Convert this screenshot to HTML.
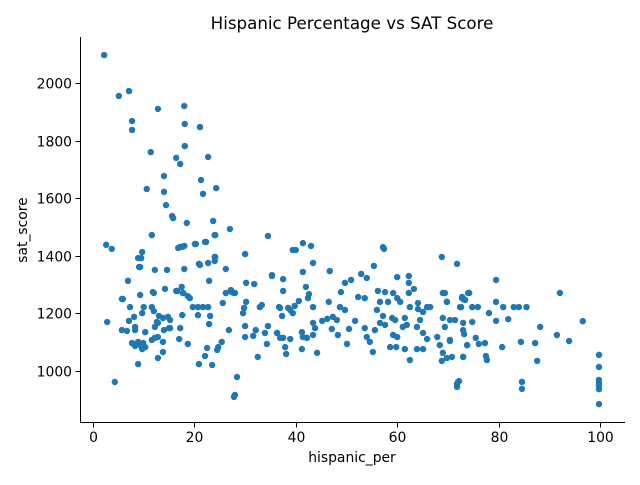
<!DOCTYPE html>
<html><head><meta charset="utf-8"><style>
body{margin:0;background:#fff;}
svg text{font-family:"DejaVu Sans","Liberation Sans",sans-serif;}
</style></head><body>
<svg id="chart" width="640" height="480" xmlns="http://www.w3.org/2000/svg">
<rect width="640" height="480" fill="#fff"/>
<text x="352" y="29" font-size="16.7" text-anchor="middle">Hispanic Percentage vs SAT Score</text>
<g id="points"></g>
<g id="axes"></g>
<text x="352" y="462" font-size="13.9" text-anchor="middle">hispanic_per</text>
<text transform="translate(27,230) rotate(-90)" font-size="13.9" text-anchor="middle">sat_score</text>
</svg>
<script>
const xTicks=[0,20,40,60,80,100];
const yTicks=[1000,1200,1400,1600,1800,2000];
const hispanicPer=[2.2,5.1,7.1,7.7,7.7,12.8,18,18.1,21.1,11.4,18.1,16.4,22.7,14,17.2,10.6,14,21.3,24.3,21.7,14.4,15.6,15.8,18.5,23.7,27,24,11.6,34.5,30,24,24,17.2,18,20.1,22.1,2.6,3.7,9.5,9.1,12.2,14.6,18,21.1,22.7,26.2,6.9,22.9,17.5,11.8,16.4,17.7,18.7,27.2,27.8,5.9,9.3,26.2,30.2,31.8,37.5,35.3,2.8,4.3,28,28.4,27.8,
99.8,99.8,99.8,99.8,99.8,99.8,99.8,84.6,84.6,71.8,72.2,96.6,92.1,91.5,93.9,88.2,87.2,87.6,84.4,83,84,85.5,81.9,80.9,79.5,79.5,78.1,79.5,80.7,77.3,76.1,77.5,77.7,75.5,74.8,74.8,75.9,74.2,72.8,73.4,72.6,69.4,69.8,71.8,68.8,73.8,73,70.4,73.2,
41.4,43,39.4,40,57.2,57.4,43.4,55.4,46.7,41.4,35.3,52.9,54,60,62.3,62.3,63.3,50.9,49.7,48.9,37.5,42,42.6,42.4,40.6,39.8,38.5,36.9,37.3,38.9,39.4,43.4,46.5,52.3,53.6,56.2,57.6,59.2,60,56.6,58.2,62.3,60.6,62.5,64.1,65.9,66.5,69,69.8,72.8,73,74,72.4,
36.3,37.5,38.9,37.9,38.1,41.2,41.4,42.2,43.4,41.2,44.2,43.4,43.8,45.2,46.2,47.3,48.1,47.1,48.3,48.7,49.7,50.5,50.1,51.7,53.6,54,54.6,55.2,55.6,56.6,57.6,59.2,60,58.6,59.8,56,57.2,59,59.6,61.1,61.9,61.5,61.5,62.5,63.9,65.1,65.9,65.1,63.9,64.5,65.1,64.1,67.9,68.4,69,68.8,69.8,70.4,70.8,73,73.8,73,73,69,70.4,71.4,69.4,72,71.8,
9.7,8.9,9.3,16.8,17.6,20.3,22.3,24.1,24.1,20.9,14.2,12,5.7,16.6,17.8,19.1,27.4,28,25.6,30.2,29.8,29.6,32.9,33.3,36.7,7.3,8.1,7.1,10,9.7,11.6,12,13,13.8,14.8,15.2,12.6,15.2,19.7,20.7,21.7,22.7,20.7,23.1,
5.7,6.7,8.3,8.3,10.3,12.2,12.8,7.7,8.3,8.9,9.3,9.9,10.3,9.7,11.6,12.2,12.8,13.8,13.8,8.9,12.8,14,15,17.2,17.6,17,18.7,20.9,22.1,22.5,23.5,22.9,24.5,24.7,25.4,26.8,32.5,30,30,31.6,32.1,33.9,34.3,34.5,36.3,36.9];
const satScore=[2097,1955,1972,1868,1837,1910,1920,1858,1847,1760,1781,1740,1743,1677,1719,1632,1622,1663,1635,1615,1576,1538,1531,1514,1521,1493,1472,1472,1469,1406,1396,1382,1431,1434,1441,1448,1438,1424,1392,1361,1351,1351,1354,1368,1375,1354,1313,1313,1292,1274,1278,1271,1260,1281,1271,1250,1264,1271,1306,1302,1319,1333,1170,962,917,979,910,
1056,1014,969,958,950,937,885,962,938,955,965,1173,1271,1125,1104,1153,1097,1035,1101,1222,1222,1222,1180,1222,1240,1174,1201,1316,1083,1097,1094,1052,1038,1115,1170,1222,1222,1271,1253,1247,1222,1271,1240,1372,1396,1090,1049,1104,1128,
1444,1434,1420,1420,1430,1424,1375,1365,1347,1344,1330,1337,1323,1326,1330,1306,1285,1316,1306,1274,1278,1292,1267,1253,1243,1226,1219,1219,1191,1212,1201,1222,1240,1257,1253,1278,1274,1271,1253,1240,1240,1271,1240,1222,1236,1222,1222,1271,1240,1257,1250,1271,1222,
1132,1115,1111,1083,1059,1135,1118,1115,1125,1076,1063,1167,1149,1174,1181,1188,1177,1146,1125,1222,1212,1146,1094,1174,1149,1118,1101,1066,1142,1167,1160,1125,1118,1083,1083,1212,1191,1184,1177,1153,1160,1184,1076,1038,1076,1076,1111,1132,1153,1177,1205,1215,1118,1090,1063,1035,1045,1108,1049,1049,1090,1167,1142,1184,1177,1177,1153,962,945,
1413,1392,1361,1427,1431,1441,1448,1472,1396,1372,1285,1271,1250,1278,1271,1253,1274,1271,1236,1240,1219,1201,1222,1229,1222,1222,1188,1174,1222,1201,1222,1208,1191,1184,1188,1177,1170,1149,1222,1222,1222,1222,1194,1191,
1142,1139,1153,1142,1135,1153,1167,1097,1087,1101,1090,1097,1083,1076,1108,1115,1118,1101,1066,1024,1045,1142,1149,1149,1194,1111,1094,1024,1052,1080,1021,1163,1073,1083,1101,1142,1049,1156,1118,1122,1142,1132,1094,1156,1132,1115];
const NS='http://www.w3.org/2000/svg';
function X(v){return 93+v*5.07;}
function Y(v){return 371-(v-1000)*0.288;}
const pg=document.getElementById('points');
const n=Math.min(hispanicPer.length,satScore.length);
for(let i=0;i<n;i++){
  const c=document.createElementNS(NS,'circle');
  c.setAttribute('cx',X(hispanicPer[i]));c.setAttribute('cy',Y(satScore[i]));
  c.setAttribute('r',3.2);c.setAttribute('fill','#1f77b4');
  
  
  pg.appendChild(c);
}
const ag=document.getElementById('axes');
function line(x1,y1,x2,y2,name){
  const l=document.createElementNS(NS,'line');
  l.setAttribute('x1',x1);l.setAttribute('y1',y1);l.setAttribute('x2',x2);l.setAttribute('y2',y2);
  l.setAttribute('stroke','#000');l.setAttribute('stroke-width','1');
  
  
  ag.appendChild(l);
}
function text(x,y,s,anchor,name){
  const t=document.createElementNS(NS,'text');
  t.setAttribute('x',x);t.setAttribute('y',y);t.setAttribute('font-size','13.9');
  t.setAttribute('text-anchor',anchor);t.textContent=s;
  
  
  ag.appendChild(t);
}
line(80.5,37,80.5,422.5,'y-axis-line');
line(80,422.5,625,422.5,'x-axis-line');
xTicks.forEach(v=>{const x=Math.round(X(v))+0.5;line(x,422.5,x,427.5,'x-tick');text(x,442,String(v),'middle','x-tick-label');});
yTicks.forEach(v=>{const y=Math.round(Y(v))+0.5;line(75.5,y,80.5,y,'y-tick');text(72,y+5,String(v),'end','y-tick-label');});
</script>
</body></html>
